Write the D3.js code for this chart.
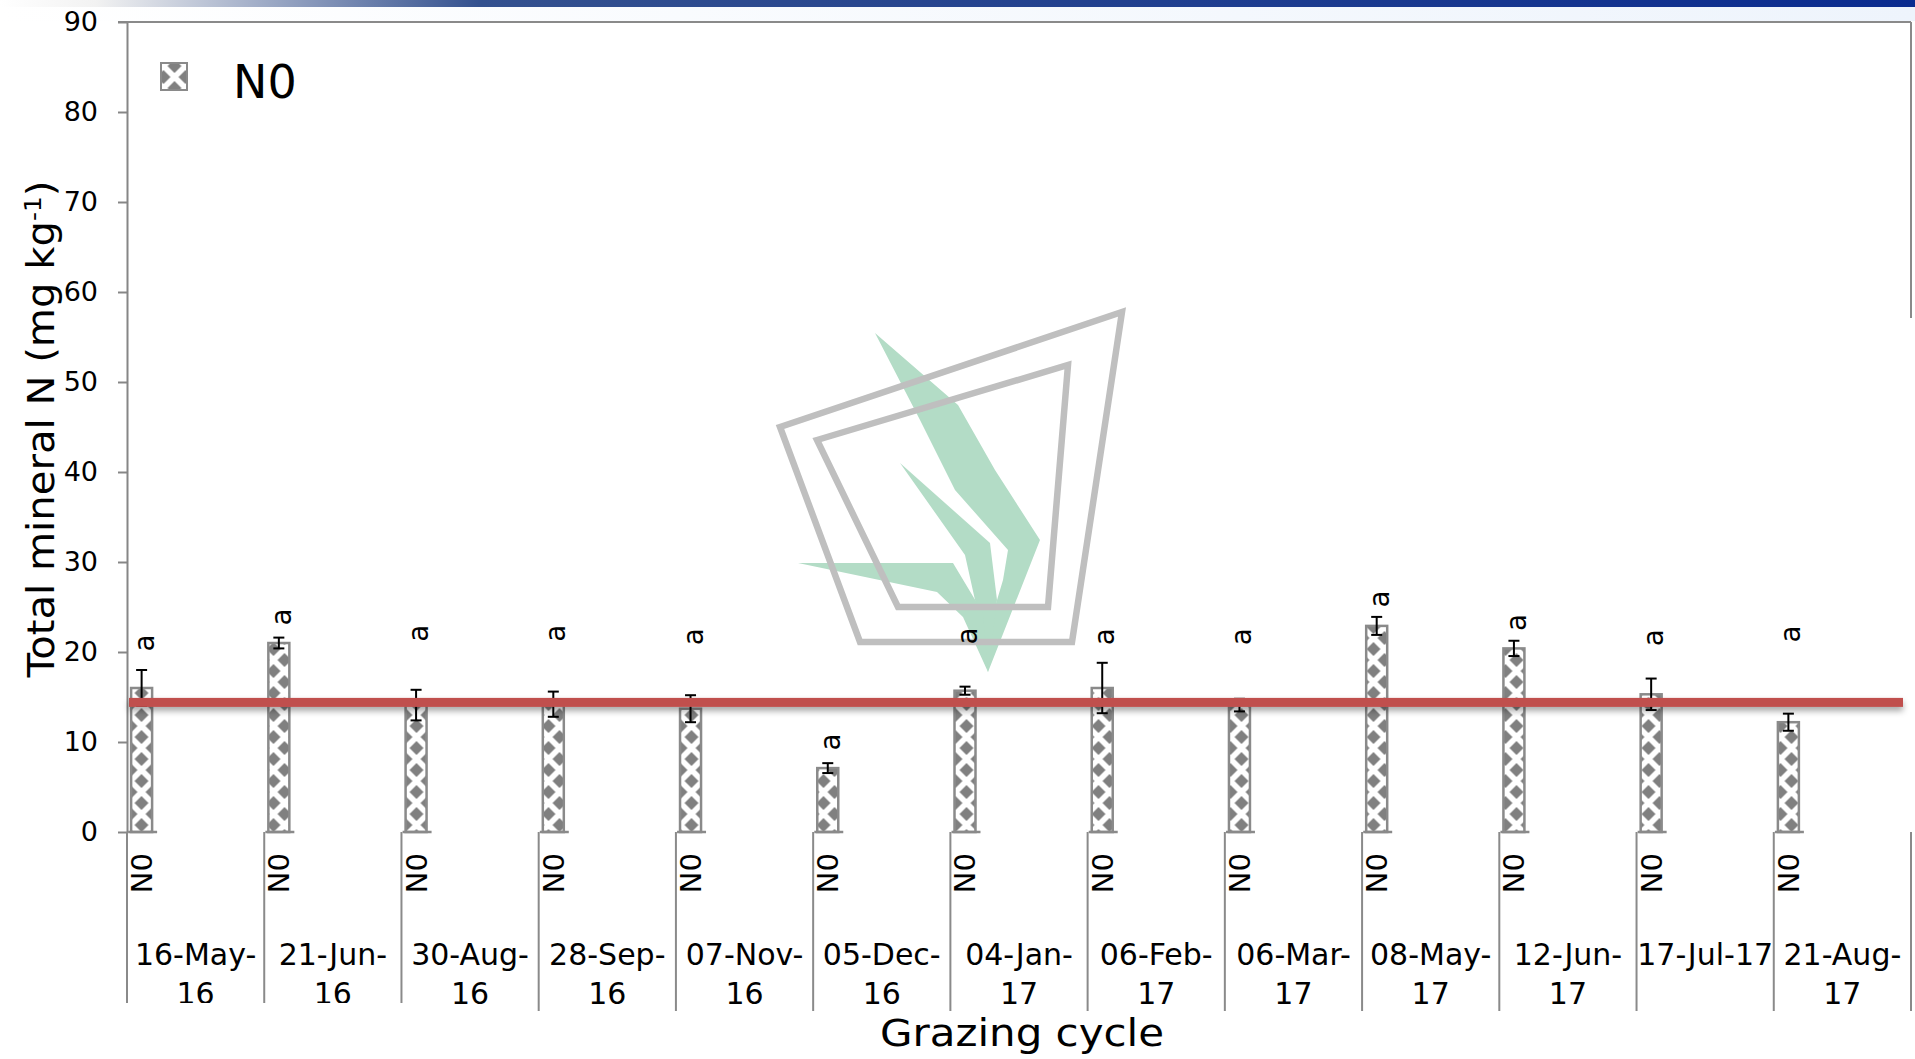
<!DOCTYPE html>
<html>
<head>
<meta charset="utf-8">
<title>Total mineral N by grazing cycle</title>
<script src="https://d3js.org/d3.v7.min.js"></script>
<style>
	body { margin: 0; background: #fff; }
	svg { display: block; font-family: "DejaVu Sans", sans-serif; }
</style>
</head>
<body>
<div id="chart"></div>
<script>
// data
var categories = ["16-May-16", "21-Jun-16", "30-Aug-16", "28-Sep-16", "07-Nov-16", "05-Dec-16",
	"04-Jan-17", "06-Feb-17", "06-Mar-17", "08-May-17", "12-Jun-17", "17-Jul-17", "21-Aug-17"];
var seriesName = "N0";
var meanN = [16.0, 21.0, 14.1, 14.2, 13.7, 7.1, 15.7, 16.0, 14.1, 22.9, 20.4, 15.3, 12.2];
var seN = [2.0, 0.6, 1.7, 1.4, 1.5, 0.55, 0.45, 2.8, 0.7, 1.0, 0.85, 1.75, 0.95];
var letters = ["a", "a", "a", "a", "a", "a", "a", "a", "a", "a", "a", "a", "a"];
var letterAt = [21.0, 23.9, 22.1, 22.1, 21.7, 10.0, 21.8, 21.7, 21.7, 25.9, 23.3, 21.6, 22.0];
var refLevel = 14.4;
var yTicks = [0, 10, 20, 30, 40, 50, 60, 70, 80, 90];

var W = 1915, H = 1059;
var plotL = 127, plotR = 1911, plotT = 22, plotB = 832;

var svg = d3.select('#chart').append('svg')
	.attr("width", W)
	.attr("height", H);

var defs = svg.append('defs');

// diamond fill of the bars
var pat = defs.append('pattern')
	.attr("id", "diamonds")
	.attr("patternUnits", "userSpaceOnUse")
	.attr("x", 130.5).attr("y", 0)
	.attr("width", 22).attr("height", 22);
pat.append('rect').attr("width", 22).attr("height", 22).attr("fill", "#fff");
pat.append('path')
	.attr("d", "M11,4L18,11L11,18L4,11Z M0,-7L7,0L0,7L-7,0Z M22,-7L29,0L22,7L15,0Z M0,15L7,22L0,29L-7,22Z M22,15L29,22L22,29L15,22Z")
	.attr("fill", "#808080");

var shadow = defs.append('filter').attr("id", "shadow")
	.attr("x", "-5%").attr("y", "-150%").attr("width", "110%").attr("height", "400%");
shadow.append('feDropShadow')
	.attr("dx", 0).attr("dy", 4).attr("stdDeviation", 3)
	.attr("flood-color", "#000").attr("flood-opacity", 0.35);

var band = defs.append('linearGradient').attr("id", "band");
band.append('stop').attr("offset", "0%").attr("stop-color", "#ffffff");
band.append('stop').attr("offset", "5%").attr("stop-color", "#f2f2f2");
band.append('stop').attr("offset", "25%").attr("stop-color", "#34518f");
band.append('stop').attr("offset", "100%").attr("stop-color", "#0a2b8f");
var pale = defs.append('linearGradient').attr("id", "pale");
pale.append('stop').attr("offset", "0%").attr("stop-color", "#ffffff");
pale.append('stop').attr("offset", "100%").attr("stop-color", "#eef4fc");

// slide header remnant
svg.append('rect').attr("x", 0).attr("y", 0).attr("width", W).attr("height", 7).attr("fill", "url(#band)");
svg.append('rect').attr("x", 0).attr("y", 7).attr("width", W).attr("height", 14).attr("fill", "url(#pale)");

var x = d3.scaleBand().domain(categories).range([plotL, plotR]).padding(0);
var y = d3.scaleLinear().domain([0, 90]).range([plotB, plotT]);
var bw = x.bandwidth();

// plot border bits
svg.append('line').attr("x1", plotL - 9).attr("x2", plotR).attr("y1", plotT).attr("y2", plotT)
	.attr("stroke", "#8a8a8a").attr("stroke-width", 2);
svg.append('line').attr("x1", plotR).attr("x2", plotR).attr("y1", plotT).attr("y2", 318)
	.attr("stroke", "#8a8a8a").attr("stroke-width", 2);

// y axis
var yAxis = svg.append('g')
	.attr("transform", "translate(" + plotL + ",0)")
	.call(d3.axisLeft(y).tickValues(yTicks).tickSize(9).tickSizeOuter(0).tickPadding(20));
yAxis.select('.domain').attr("stroke", "#868686").attr("stroke-width", 2);
yAxis.selectAll('.tick line').attr("stroke", "#868686").attr("stroke-width", 2);
yAxis.selectAll('.tick text')
	.attr("fill", "#000")
	.style("font-size", "27px")
	.style("font-family", "'DejaVu Sans', sans-serif");

// watermark logo
var logo = svg.append('g');
var green = [
	[[875, 333], [958, 405], [995, 470], [1040, 540], [988, 672], [983, 647], [1003, 580], [1008, 550], [955, 490], [920, 420]],
	[[900, 463], [990, 543], [997, 600], [988, 672], [975, 600], [965, 555]],
	[[798, 563], [953, 563], [983, 613], [988, 672], [963, 617], [937, 592]]
];
logo.selectAll('path.leaf').data(green).enter().append('path')
	.attr("class", "leaf")
	.attr("d", function(d) { return "M" + d.join("L") + "Z"; })
	.attr("fill", "#b3dcc6");
var frames = [
	[[780, 427], [1122, 312], [1072, 642], [860, 642]],
	[[817, 440], [1068, 365], [1048, 607], [898, 607]]
];
logo.selectAll('path.frame').data(frames).enter().append('path')
	.attr("class", "frame")
	.attr("d", function(d) { return "M" + d.join("L") + "Z"; })
	.attr("fill", "none")
	.attr("stroke", "#bfbfbf")
	.attr("stroke-width", 6.5);

// bars
var rows = categories.map(function(c, i) {
	return { cat: c, mean: meanN[i], se: seN[i], letter: letters[i], at: letterAt[i] };
});
function bx(d) { return x(d.cat) + bw * 0.03; }
var barW = bw * 0.153;
function cx(d) { return bx(d) + barW / 2; }

svg.selectAll('rect.bar').data(rows).enter().append('rect')
	.attr("class", "bar")
	.attr("x", bx)
	.attr("y", function(d) { return y(d.mean); })
	.attr("width", barW)
	.attr("height", function(d) { return y(0) - y(d.mean); })
	.attr("fill", "url(#diamonds)")
	.attr("stroke", "#8a8a8a")
	.attr("stroke-width", 2.5);
svg.selectAll('line.base').data(rows).enter().append('line')
	.attr("x1", function(d) { return bx(d) - 3; })
	.attr("x2", function(d) { return bx(d) + barW + 5; })
	.attr("y1", y(0)).attr("y2", y(0))
	.attr("stroke", "#8a8a8a").attr("stroke-width", 2.5);

// error bars
var eb = svg.selectAll('g.err').data(rows).enter().append('g').attr("class", "err")
	.attr("stroke", "#000").attr("stroke-width", 2);
eb.append('line')
	.attr("x1", cx).attr("x2", cx)
	.attr("y1", function(d) { return y(d.mean - d.se); })
	.attr("y2", function(d) { return y(d.mean + d.se); });
eb.append('line')
	.attr("x1", function(d) { return cx(d) - 5.5; }).attr("x2", function(d) { return cx(d) + 5.5; })
	.attr("y1", function(d) { return y(d.mean + d.se); })
	.attr("y2", function(d) { return y(d.mean + d.se); });
eb.append('line')
	.attr("x1", function(d) { return cx(d) - 5.5; }).attr("x2", function(d) { return cx(d) + 5.5; })
	.attr("y1", function(d) { return y(d.mean - d.se); })
	.attr("y2", function(d) { return y(d.mean - d.se); });

// reference line (a thin rect so the shadow filter has a box)
svg.append('rect')
	.attr("x", plotL + 2)
	.attr("y", y(refLevel) - 4.5)
	.attr("width", 1903 - plotL - 2)
	.attr("height", 9)
	.attr("fill", "#c0504d")
	.attr("filter", "url(#shadow)");

// significance letters, rotated like the original
svg.selectAll('text.letter').data(rows).enter().append('text')
	.attr("class", "letter")
	.attr("transform", function(d) { return "translate(" + (cx(d) + 12) + "," + y(d.at) + ") rotate(-90)"; })
	.attr("text-anchor", "middle")
	.style("font-size", "28px")
	.attr("fill", "#000")
	.text(function(d) { return d.letter; });

// category boundaries
var edges = categories.map(function(c) { return x(c); }).concat([plotR]);
svg.selectAll('line.edge').data(edges).enter().append('line')
	.attr("class", "edge")
	.attr("x1", function(d) { return d; }).attr("x2", function(d) { return d; })
	.attr("y1", plotB).attr("y2", 1011)
	.attr("stroke", "#8a8a8a").attr("stroke-width", 2);

// inner level: series name
svg.selectAll('text.ser').data(rows).enter().append('text')
	.attr("class", "ser")
	.attr("transform", function(d) { return "translate(" + cx(d) + ",853) rotate(-90)"; })
	.attr("y", 10.5)
	.attr("text-anchor", "end")
	.style("font-size", "29px")
	.attr("fill", "#000")
	.text(seriesName);

// outer level: dates, wrapped after the last dash when too wide
svg.selectAll('text.cat').data(rows).enter().append('text')
	.attr("class", "cat")
	.attr("text-anchor", "middle")
	.style("font-size", "30px")
	.attr("fill", "#000")
	.each(function(d) {
		var t = d3.select(this);
		var mid = x(d.cat) + bw / 2;
		var one = t.append('tspan').attr("x", mid).attr("y", 965).text(d.cat);
		if (one.node().getComputedTextLength() > bw + 3) {
			var k = d.cat.lastIndexOf("-");
			one.text(d.cat.slice(0, k + 1));
			t.append('tspan').attr("x", mid).attr("y", 1004).text(d.cat.slice(k + 1));
		}
	});

// the lower left of the slide is cut by a white shape
svg.append('rect').attr("x", 0).attr("y", 1003).attr("width", 417).attr("height", 56).attr("fill", "#fff");

// axis titles
svg.append('text')
	.attr("x", 1022).attr("y", 1046)
	.attr("text-anchor", "middle")
	.attr("textLength", 284).attr("lengthAdjust", "spacingAndGlyphs")
	.style("font-size", "37px")
	.attr("fill", "#000")
	.text("Grazing cycle");

var yt = svg.append('text')
	.attr("transform", "translate(54,429) rotate(-90)")
	.attr("text-anchor", "middle")
	.attr("textLength", 497).attr("lengthAdjust", "spacingAndGlyphs")
	.style("font-size", "37px")
	.attr("fill", "#000");
yt.append('tspan').text("Total mineral N (mg kg");
yt.append('tspan').attr("baseline-shift", "super").style("font-size", "23px").text("-1");
yt.append('tspan').text(")");

// legend
svg.append('rect')
	.attr("x", 161).attr("y", 63).attr("width", 26).attr("height", 27)
	.attr("fill", "url(#diamonds)")
	.attr("stroke", "#8a8a8a").attr("stroke-width", 2);
svg.append('text')
	.attr("x", 233).attr("y", 98)
	.style("font-size", "46px")
	.attr("fill", "#000")
	.text(seriesName);
</script>
</body>
</html>
